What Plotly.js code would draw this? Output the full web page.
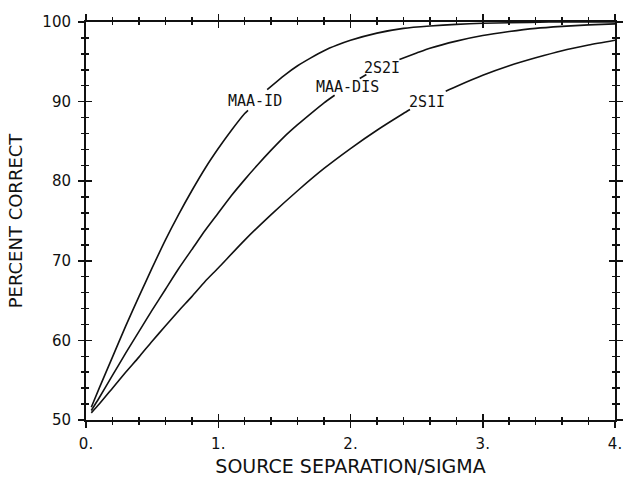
<!DOCTYPE html>
<html>
<head>
<meta charset="utf-8">
<script src="https://cdn.plot.ly/plotly-3.0.1.min.js"></script>
<style>html,body{margin:0;padding:0;background:#fff;}#chart{width:627px;height:477px;}</style>
</head>
<body>
<div id="chart"></div>
<script>
// Tick labels
var xTickVals = [0, 1, 2, 3, 4];
var xTickText = ["0.", "1.", "2.", "3.", "4."];
var yTickVals = [50, 60, 70, 80, 90, 100];
var yTickText = ["50", "60", "70", "80", "90", "100"];

// MAA-ID curve (null = gap where the label sits)
var maaIdX = [0.04, 0.1, 0.2, 0.3, 0.4, 0.5, 0.6, 0.7, 0.8, 0.9, 1.0, 1.1, 1.2, 1.225, null,
              1.37, 1.5, 1.6, 1.7, 1.8, 1.9, 2.0, 2.2, 2.4, 2.6, 2.8, 3.0, 3.2, 3.5, 4.0];
var maaIdY = [51.6, 54.0, 57.9, 61.8, 65.5, 69.1, 72.6, 75.8, 78.8, 81.6, 84.1, 86.4, 88.5, 88.9, null,
              91.5, 93.3, 94.5, 95.5, 96.4, 97.1, 97.7, 98.6, 99.2, 99.5, 99.7, 99.85, 99.9, 100.0, 100.0];

// MAA-DIS / 2S2I curve
var maaDisX = [0.04, 0.1, 0.2, 0.3, 0.4, 0.5, 0.6, 0.7, 0.8, 0.9, 1.0, 1.1, 1.2, 1.3, 1.4, 1.5, 1.6, 1.7, 1.8, 1.88, null,
               2.07, 2.12, null,
               2.37, 2.5, 2.6, 2.8, 3.0, 3.2, 3.4, 3.6, 3.8, 4.0];
var maaDisY = [51.2, 52.8, 55.6, 58.4, 61.1, 63.8, 66.4, 69.0, 71.4, 73.8, 76.0, 78.2, 80.2, 82.1, 83.9, 85.6, 87.1, 88.5, 89.85, 90.8, null,
               92.9, 93.4, null,
               95.3, 96.1, 96.7, 97.6, 98.3, 98.8, 99.2, 99.45, 99.64, 99.77];

// 2S1I curve
var s1iX = [0.04, 0.1, 0.2, 0.3, 0.4, 0.5, 0.6, 0.7, 0.8, 0.9, 1.0, 1.2, 1.4, 1.6, 1.8, 2.0, 2.2, 2.4, 2.45, null,
            2.72, 2.8, 3.0, 3.2, 3.4, 3.6, 3.8, 4.0];
var s1iY = [50.9, 52.0, 54.0, 56.0, 57.9, 59.9, 61.8, 63.7, 65.5, 67.4, 69.1, 72.6, 75.8, 78.8, 81.6, 84.1, 86.4, 88.5, 89.0, null,
            91.3, 91.9, 93.3, 94.5, 95.5, 96.4, 97.1, 97.7];

// Curve labels
var labelText = ["MAA-ID", "MAA-DIS", "2S2I", "2S1I"];
var labelX = [1.28, 1.98, 2.235, 2.58];
var labelY = [90.1, 91.8, 94.2, 89.9];

var ink = "#111111";
var lineStyle = {color: ink, width: 1.6, shape: "spline", smoothing: 0.6};

var traces = [
  {x: maaIdX, y: maaIdY, mode: "lines", line: lineStyle, connectgaps: false, hoverinfo: "skip"},
  {x: maaDisX, y: maaDisY, mode: "lines", line: lineStyle, connectgaps: false, hoverinfo: "skip"},
  {x: s1iX, y: s1iY, mode: "lines", line: lineStyle, connectgaps: false, hoverinfo: "skip", xaxis: "x2", yaxis: "y2"}
];

var annotations = labelText.map(function (t, i) {
  return {x: labelX[i], y: labelY[i], xref: "x", yref: "y", text: t, showarrow: false,
          font: {family: "DejaVu Sans Mono", size: 15, color: ink}, bgcolor: "rgba(0,0,0,0)"};
});

var tickFont = {family: "DejaVu Sans", size: 15, color: ink};

var layout = {
  width: 627, height: 477,
  margin: {l: 86, r: 12, t: 22, b: 57},
  paper_bgcolor: "#fff", plot_bgcolor: "#fff",
  showlegend: false,
  font: {family: "DejaVu Sans", color: ink},
  xaxis: {
    range: [0, 4], tickvals: xTickVals, ticktext: xTickText,
    ticks: "outside", ticklen: 6, tickwidth: 1.5, tickcolor: ink,
    minor: {dtick: 0.2, ticks: "outside", ticklen: 3, tickwidth: 1.5, tickcolor: ink, showgrid: false},
    showline: true, linewidth: 2, linecolor: ink, mirror: "allticks",
    showgrid: false, zeroline: false, tickfont: tickFont, ticklabelstandoff: 3,
    title: {text: "SOURCE SEPARATION/SIGMA", font: {family: "DejaVu Sans", size: 19, color: ink}, standoff: 12}
  },
  yaxis: {
    range: [50, 100], tickvals: yTickVals, ticktext: yTickText,
    ticks: "outside", ticklen: 6, tickwidth: 1.5, tickcolor: ink,
    minor: {dtick: 2, ticks: "outside", ticklen: 3, tickwidth: 1.5, tickcolor: ink, showgrid: false},
    showline: true, linewidth: 2, linecolor: ink, mirror: "allticks",
    showgrid: false, zeroline: false, tickfont: tickFont, ticklabelstandoff: 4,
    title: {text: "PERCENT CORRECT", font: {family: "DejaVu Sans", size: 18, color: ink}, standoff: 15}
  },
  xaxis2: {
    range: [0, 4], overlaying: "x", anchor: "y2", tickvals: xTickVals, showticklabels: false,
    ticks: "inside", ticklen: 6, tickwidth: 1.5, tickcolor: ink,
    minor: {dtick: 0.2, ticks: "inside", ticklen: 3, tickwidth: 1.5, tickcolor: ink, showgrid: false},
    showline: false, mirror: "allticks", showgrid: false, zeroline: false
  },
  yaxis2: {
    range: [50, 100], overlaying: "y", anchor: "x2", tickvals: yTickVals, showticklabels: false,
    ticks: "inside", ticklen: 6, tickwidth: 1.5, tickcolor: ink,
    minor: {dtick: 2, ticks: "inside", ticklen: 3, tickwidth: 1.5, tickcolor: ink, showgrid: false},
    showline: false, mirror: "allticks", showgrid: false, zeroline: false
  },
  annotations: annotations
};

Plotly.newPlot("chart", traces, layout, {staticPlot: true, displayModeBar: false});
</script>
</body>
</html>
